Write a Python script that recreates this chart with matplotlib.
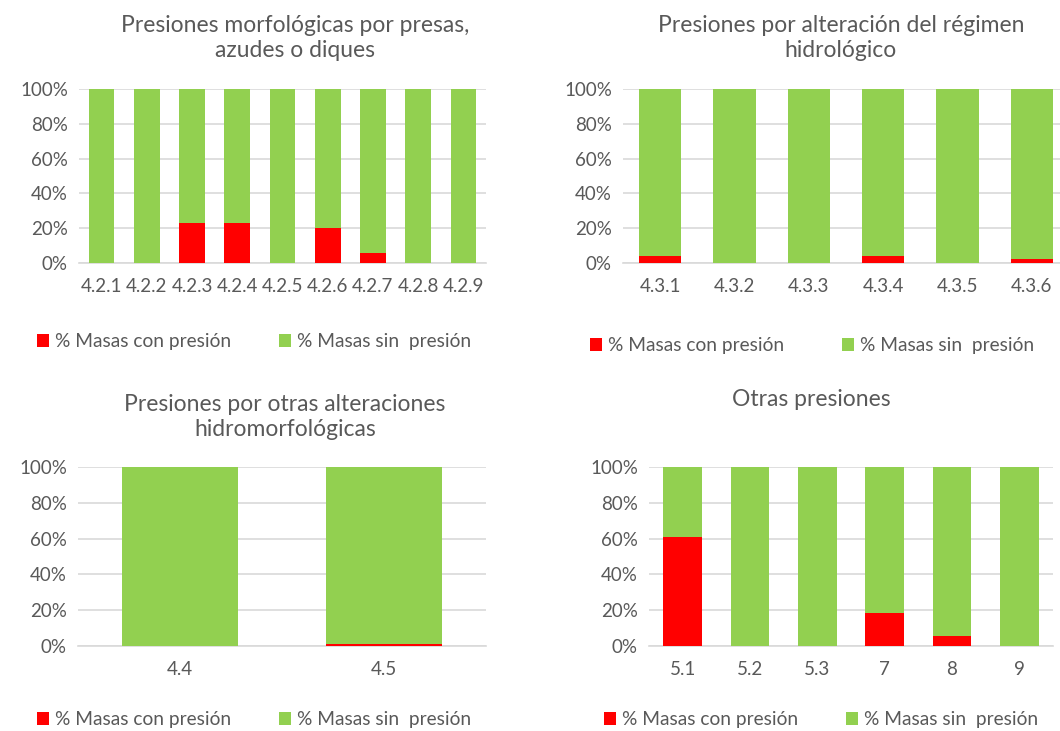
import matplotlib.pyplot as plt
import numpy as np
from matplotlib.ticker import PercentFormatter

plt.rcParams['font.family'] = ['Lato', 'DejaVu Sans']

# data (% of water bodies with / without pressure)
cats_presas = ['4.2.1', '4.2.2', '4.2.3', '4.2.4', '4.2.5', '4.2.6', '4.2.7', '4.2.8', '4.2.9']
con_presas = [0, 0, 23, 23, 0, 20, 5.5, 0, 0]

cats_regimen = ['4.3.1', '4.3.2', '4.3.3', '4.3.4', '4.3.5', '4.3.6']
con_regimen = [4, 0, 0, 4, 0, 2.3]

cats_otras_hm = ['4.4', '4.5']
con_otras_hm = [0, 1.2]

cats_otras = ['5.1', '5.2', '5.3', '7', '8', '9']
con_otras = [61, 0, 0, 18.7, 5.8, 0]

titles = ['Presiones morfológicas por presas,\nazudes o diques',
          'Presiones por alteración del régimen\nhidrológico',
          'Presiones por otras alteraciones\nhidromorfológicas',
          'Otras presiones']

RED = '#FF0000'
GREEN = '#92D050'
GREY = '#595959'
GRID = '#D9D9D9'

W, H = 1060, 731
fig = plt.figure(figsize=(W / 100, H / 100), dpi=100)

def px_axes(left, right, bottom, top):
    return fig.add_axes([left / W, 1 - bottom / H, (right - left) / W, (bottom - top) / H])

# axes boxes in pixel coords: left, right, y of 0%, y of 100%
boxes = [(79, 486, 263, 89), (623, 1069, 263, 89), (78, 486, 646, 467), (649, 1053, 646, 467)]
panels = [(cats_presas, con_presas), (cats_regimen, con_regimen),
          (cats_otras_hm, con_otras_hm), (cats_otras, con_otras)]
# title center x, title center y (pixels)
title_pos = [(295, 38), (841, 38), (285, 417), (811, 400)]
# legend center (pixels)
legend_pos = [(254, 342), (812, 346), (254, 720), (821, 720)]

for i, ((cats, con), box) in enumerate(zip(panels, boxes)):
    ax = px_axes(*box)
    x = np.arange(len(cats))
    con = np.array(con, dtype=float)
    sin = 100 - con
    ax.bar(x, con, width=0.57, color=RED, label='% Masas con presión', zorder=3)
    ax.bar(x, sin, bottom=con, width=0.57, color=GREEN, label='% Masas sin  presión', zorder=3)
    ax.set_xlim(-0.5, len(cats) - 0.5)
    ax.set_ylim(0, 100)
    ax.set_yticks(np.arange(0, 101, 20))
    ax.yaxis.set_major_formatter(PercentFormatter(decimals=0))
    ax.set_xticks(x)
    ax.set_xticklabels(cats)
    ax.grid(axis='y', color=GRID, linewidth=1.2, zorder=0)
    for s in ['top', 'right', 'left']:
        ax.spines[s].set_visible(False)
    ax.spines['bottom'].set_color(GRID)
    ax.spines['bottom'].set_linewidth(1.2)
    ax.tick_params(axis='both', length=0, colors=GREY, labelsize=13.5)
    ax.tick_params(axis='x', pad=11)
    ax.tick_params(axis='y', pad=8)

    tx, ty = title_pos[i]
    fig.text(tx / W, 1 - ty / H, titles[i], ha='center', va='center',
             fontsize=16.5, color=GREY, linespacing=1.25)

    lx, ly = legend_pos[i]
    spacing = 3.0 if i == 1 else 2.5
    ax.legend(loc='center', bbox_to_anchor=(lx / W, 1 - ly / H), bbox_transform=fig.transFigure,
              ncol=2, frameon=False, fontsize=13.8, labelcolor=GREY,
              handlelength=0.65, handleheight=0.65, handletextpad=0.3, columnspacing=spacing)

fig.savefig('out.png', dpi=100)
